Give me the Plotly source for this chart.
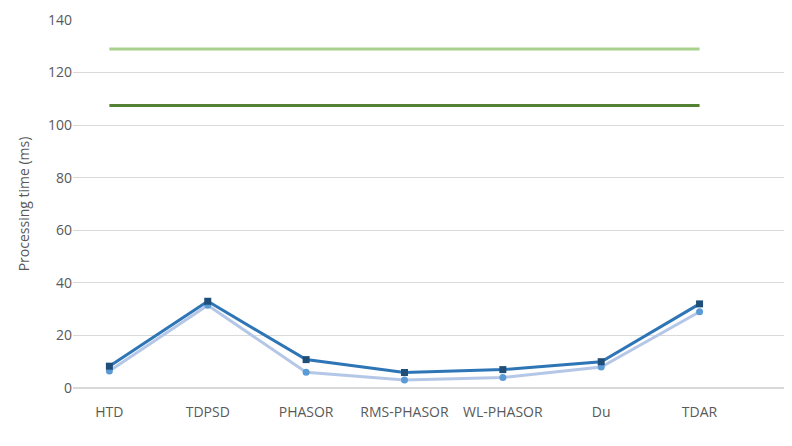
import plotly.graph_objects as go

categories = ["HTD", "TDPSD", "PHASOR", "RMS-PHASOR", "WL-PHASOR", "Du", "TDAR"]
lda = [6.5, 31.5, 6.0, 3.0, 4.0, 8.0, 29.0]
svm = [8.3, 33.0, 10.8, 5.9, 7.0, 10.0, 32.0]
rocket = [129] * 7
mini_rocket = [107.5] * 7

fig = go.Figure()
fig.add_trace(go.Scatter(x=categories, y=lda, name="LDA", mode="lines+markers",
                         line=dict(color="#B4C7E7", width=3),
                         marker=dict(color="#5B9BD5", size=7, symbol="circle")))
fig.add_trace(go.Scatter(x=categories, y=svm, name="SVM", mode="lines+markers",
                         line=dict(color="#2E75B6", width=3),
                         marker=dict(color="#1F4E79", size=7, symbol="square")))
fig.add_trace(go.Scatter(x=categories, y=rocket, name="Rocket", mode="lines",
                         line=dict(color="#A9D18E", width=3)))
fig.add_trace(go.Scatter(x=categories, y=mini_rocket, name="Mini-Rocket", mode="lines",
                         line=dict(color="#548235", width=3)))

fig.update_layout(
    width=792, height=446, plot_bgcolor="white", paper_bgcolor="white",
    margin=dict(l=65, r=7, t=12, b=66, autoexpand=False),
    font=dict(family="Open Sans", size=14, color="#595959"),
    legend=dict(orientation="h", x=0.5, xanchor="center", y=-0.13, yanchor="top",
                font=dict(size=14, color="#595959")),
    showlegend=True,
)
fig.update_xaxes(showgrid=False, showline=False, ticks="", tickfont=dict(size=14),
                 range=[-0.37, 6.95], ticklabelstandoff=14)
fig.update_yaxes(range=[0, 140], dtick=20, gridcolor="#D9D9D9", zeroline=True,
                 zerolinecolor="#D9D9D9", title=dict(text="Processing time (ms)", font=dict(size=14)),
                 tickfont=dict(size=14))
fig.write_html("out.html")
